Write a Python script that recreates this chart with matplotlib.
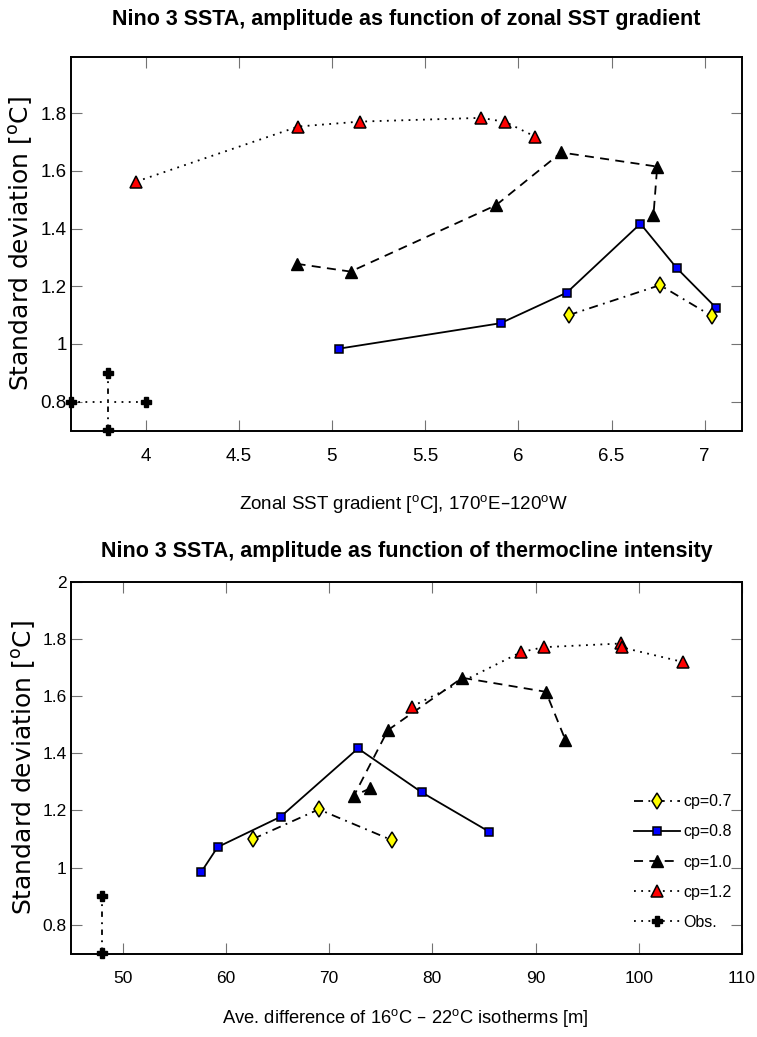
import matplotlib
matplotlib.use("Agg")
import matplotlib.pyplot as plt
from matplotlib.lines import Line2D
from matplotlib.ticker import FuncFormatter

W, H = 757, 1037  # figure size in pixels

# model runs, one list per cp value (same run order in both panels)
cp07_grad = [6.27, 6.76, 7.04]
cp07_therm = [62.6, 69.0, 76.1]
cp07_std = [1.100, 1.204, 1.096]

cp08_grad = [5.04, 5.905, 6.26, 6.655, 6.85, 7.06]
cp08_therm = [57.6, 59.2, 65.3, 72.8, 79.0, 85.5]
cp08_std = [0.984, 1.072, 1.178, 1.417, 1.263, 1.126]

cp10_grad = [4.81, 5.10, 5.88, 6.23, 6.745, 6.725]
cp10_therm = [74.0, 72.4, 75.7, 82.9, 91.0, 92.9]
cp10_std = [1.278, 1.251, 1.481, 1.664, 1.615, 1.446]

cp12_grad = [3.95, 4.82, 5.15, 5.80, 5.93, 6.09]
cp12_therm = [78.0, 88.6, 90.8, 98.3, 98.4, 104.3]
cp12_std = [1.563, 1.754, 1.771, 1.784, 1.770, 1.719]

# observations (range)
obs_grad = [3.6, 3.8, 4.0]
obs_therm = 48.0
obs_std = [0.7, 0.8, 0.9]

top_xticks = [4, 4.5, 5, 5.5, 6, 6.5, 7]
top_yticks = [0.8, 1.0, 1.2, 1.4, 1.6, 1.8]
bot_xticks = [50, 60, 70, 80, 90, 100, 110]
bot_yticks = [0.8, 1.0, 1.2, 1.4, 1.6, 1.8, 2.0]

plt.rcParams['font.family'] = ['Liberation Sans', 'DejaVu Sans']
deg = r'$^{\mathregular{o}}$'

def box(l, t, r, b):
    return [l / W, 1 - b / H, (r - l) / W, (b - t) / H]

fig = plt.figure(figsize=(W / 100, H / 100), dpi=100)
ax1 = fig.add_axes(box(71, 57, 742, 430.5))
ax2 = fig.add_axes(box(71, 581.7, 742, 953.5))

lw = 1.3
sty07 = dict(color='k', ls='-.', dashes=(5, 3, 1, 3), lw=lw, marker='d', ms=8.2,
             mfc='#ffff00', mec='k', mew=1.1)
sty08 = dict(color='k', ls='-', lw=lw, marker='s', ms=6.2, mfc='#0000ff', mec='k', mew=1.1)
sty10 = dict(color='k', ls='--', dashes=(5, 3.5), lw=lw, marker='^', ms=9, mfc='k', mec='k', mew=1.0)
sty12 = dict(color='k', ls=':', dashes=(1, 3), lw=lw, marker='^', ms=9, mfc='#ff0000', mec='k', mew=1.1)
sty_obs = dict(color='k', lw=lw, marker='P', ms=7.5, mfc='k', mec='k', clip_on=False)

# ---- top panel: zonal SST gradient
ax1.plot(obs_grad[::2], [obs_std[1]] * 2, ls=':', dashes=(1, 3), **sty_obs)
ax1.plot([obs_grad[1]] * 2, obs_std[::2], ls='-.', dashes=(3, 3, 1, 3), **sty_obs)
ax1.plot(cp12_grad, cp12_std, **sty12)
ax1.plot(cp10_grad, cp10_std, **sty10)
ax1.plot(cp08_grad, cp08_std, **sty08)
ax1.plot(cp07_grad, cp07_std, **sty07)
ax1.set_xlim(3.6, 7.2)
ax1.set_ylim(0.7, 1.995)
ax1.set_xticks(top_xticks)
ax1.set_yticks(top_yticks)

# ---- bottom panel: thermocline intensity
h07, = ax2.plot(cp07_therm, cp07_std, label='cp=0.7', **sty07)
h08, = ax2.plot(cp08_therm, cp08_std, label='cp=0.8', **sty08)
h10, = ax2.plot(cp10_therm, cp10_std, label='cp=1.0', **sty10)
h12, = ax2.plot(cp12_therm, cp12_std, label='cp=1.2', **sty12)
ax2.plot([obs_therm] * 2, obs_std[::2], ls='-.', dashes=(3, 3, 1, 3), **sty_obs)
hobs = Line2D([], [], ls=':', dashes=(1, 3), **{k: v for k, v in sty_obs.items() if k != 'clip_on'})
ax2.set_xlim(45, 110)
ax2.set_ylim(0.7, 2.0)
ax2.set_xticks(bot_xticks)
ax2.set_yticks(bot_yticks)

leg = ax2.legend([h07, h08, h10, h12, hobs], ['cp=0.7', 'cp=0.8', 'cp=1.0', 'cp=1.2', 'Obs.'],
                 loc='lower right', bbox_to_anchor=(732 / W, 1 - 930 / H),
                 bbox_transform=fig.transFigure, frameon=False, numpoints=1,
                 handlelength=2.9, handletextpad=0.2, labelspacing=0.95,
                 borderpad=0, borderaxespad=0, fontsize=11.5)

fmt = FuncFormatter(lambda v, p: '%g' % round(v, 3))
for ax, fs, lx in ((ax1, 13.5, -0.054), (ax2, 12.5, -0.049)):
    ax.xaxis.set_major_formatter(fmt)
    ax.yaxis.set_major_formatter(fmt)
    ax.tick_params(which='both', direction='in', length=8, width=0.8, color='0.45',
                   top=True, right=True, labelsize=fs)
    ax.tick_params(axis='x', pad=12.5)
    ax.tick_params(axis='y', pad=3)
    for s in ax.spines.values():
        s.set_linewidth(1.4)
    ax.set_ylabel('Standard deviation [' + deg + 'C]', family='DejaVu Sans', fontsize=18)
    ax.yaxis.set_label_coords(lx, 0.5)

fig.text(406 / W, 1 - 20 / H, 'Nino 3 SSTA, amplitude as function of zonal SST gradient',
         ha='center', va='center', fontsize=15.5, weight='bold')
fig.text(407 / W, 1 - 552 / H, 'Nino 3 SSTA, amplitude as function of thermocline intensity',
         ha='center', va='center', fontsize=15.5, weight='bold')
fig.text(404 / W, 1 - 505 / H, 'Zonal SST gradient [' + deg + 'C], 170' + deg + 'E\u2013120' + deg + 'W',
         ha='center', va='center', fontsize=13.5)
fig.text(405 / W, 1 - 1018 / H, 'Ave. difference of 16' + deg + 'C \u2013 22' + deg + 'C isotherms [m]',
         ha='center', va='center', fontsize=13.2)

fig.savefig('out.png', dpi=100)
